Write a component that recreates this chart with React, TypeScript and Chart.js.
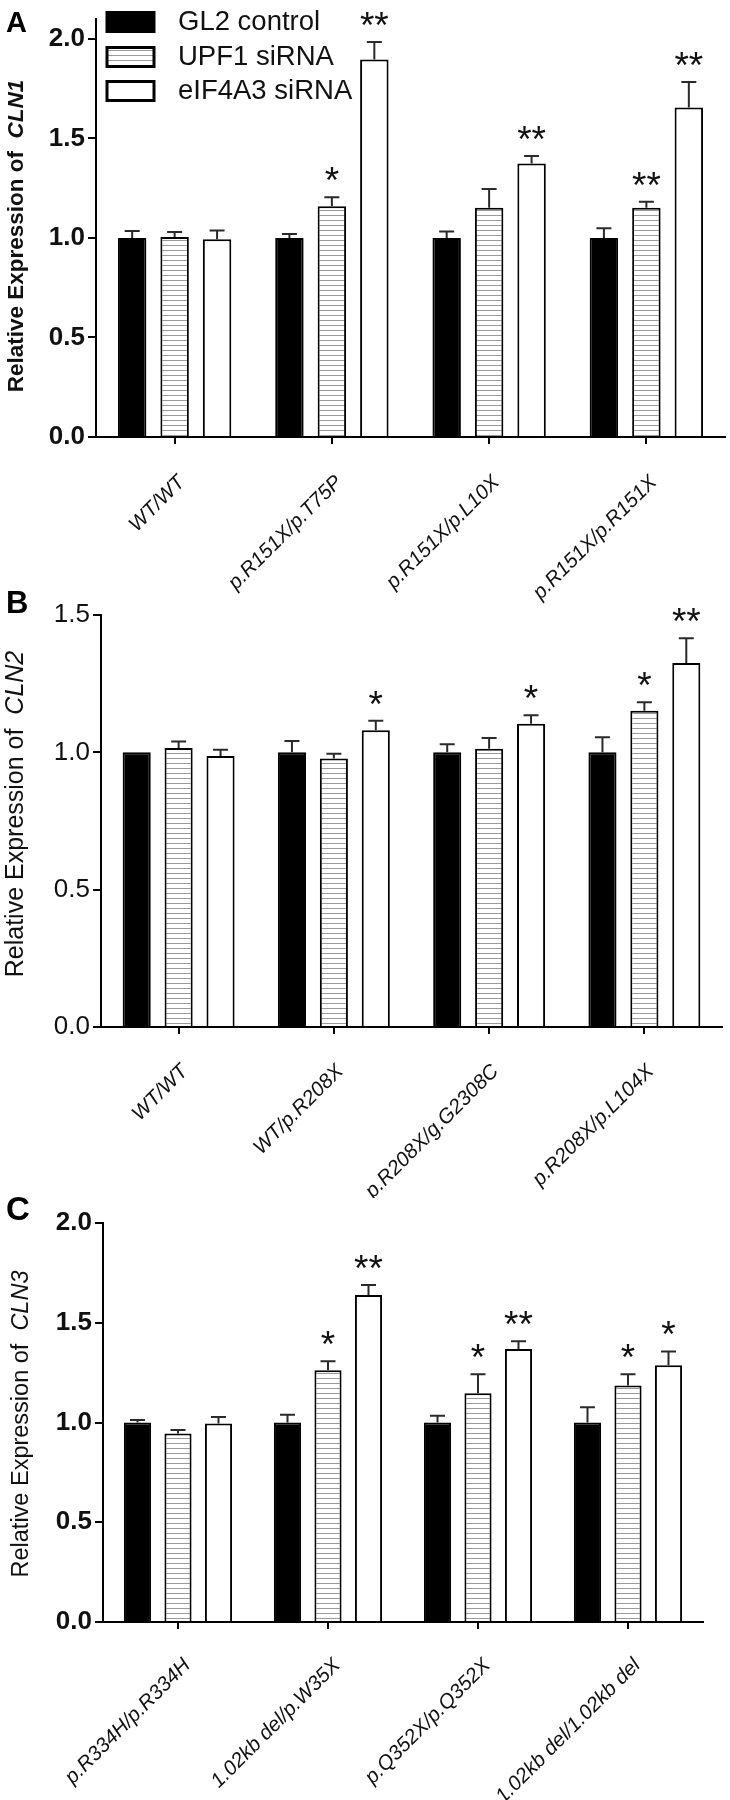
import React, { useEffect, useRef } from 'react';
import { Chart, registerables } from 'chart.js';
Chart.register(...registerables);

const FONT = "'Liberation Sans', Arial, Helvetica, sans-serif";
Chart.defaults.font.family = FONT;

const seriesNames = ['GL2 control', 'UPF1 siRNA', 'eIF4A3 siRNA'];

// Panel A (CLN1)
const catsA = ['WT/WT', 'p.R151X/p.T75P', 'p.R151X/p.L10X', 'p.R151X/p.R151X'];
const ticksA = [0, 0.5, 1.0, 1.5, 2.0];
const gl2A = [1.0, 1.0, 1.0, 1.0];
const upf1A = [1.005, 1.159, 1.152, 1.152];
const eifA = [0.993, 1.896, 1.374, 1.655];
const gl2ErrA = [0.035, 0.02, 0.033, 0.049];
const upf1ErrA = [0.025, 0.045, 0.094, 0.03];
const eifErrA = [0.045, 0.089, 0.038, 0.129];
const gl2SigA = ['', '', '', ''];
const upf1SigA = ['', '*', '', '**'];
const eifSigA = ['', '**', '**', '**'];

// Panel B (CLN2)
const catsB = ['WT/WT', 'WT/p.R208X', 'p.R208X/g.G2308C', 'p.R208X/p.L104X'];
const ticksB = [0, 0.5, 1.0, 1.5];
const gl2B = [1.0, 1.0, 1.0, 1.0];
const upf1B = [1.016, 0.978, 1.013, 1.151];
const eifB = [0.987, 1.08, 1.104, 1.325];
const gl2ErrB = [0, 0.041, 0.029, 0.055];
const upf1ErrB = [0.023, 0.017, 0.039, 0.031];
const eifErrB = [0.022, 0.035, 0.031, 0.09];
const gl2SigB = ['', '', '', ''];
const upf1SigB = ['', '', '', '*'];
const eifSigB = ['', '*', '*', '**'];

// Panel C (CLN3)
const catsC = ['p.R334H/p.R334H', '1.02kb del/p.W35X', 'p.Q352X/p.Q352X', '1.02kb del/1.02kb del'];
const ticksC = [0, 0.5, 1.0, 1.5, 2.0];
const gl2C = [1.0, 1.0, 1.0, 1.0];
const upf1C = [0.945, 1.262, 1.147, 1.186];
const eifC = [0.995, 1.639, 1.368, 1.287];
const gl2ErrC = [0.013, 0.039, 0.034, 0.077];
const upf1ErrC = [0.018, 0.045, 0.095, 0.056];
const eifErrC = [0.033, 0.05, 0.039, 0.069];
const gl2SigC = ['', '', '', ''];
const upf1SigC = ['', '*', '*', '*'];
const eifSigC = ['', '**', '**', '*'];

type PanelCfg = {
  letter: string; letterSize: number; letterBase: number;
  gene: string; titleBold: boolean; titleSize: number; titleBaseX: number; titleCenterY: number;
  tickBold: boolean; tickValues: number[];
  categories: string[]; values: number[][]; errors: number[][]; sigs: string[][];
  max: number;
  top: number; height: number;
  left: number; right: number; chartTop: number; chartBottom: number;
  labelDx: number; labelDy: number; labelSize: number; legend: boolean;
};

const panels: PanelCfg[] = [
  {
    letter: 'A', letterSize: 29, letterBase: 32,
    gene: 'CLN1', titleBold: true, titleSize: 22.5, titleBaseX: 23, titleCenterY: 236,
    tickBold: true, tickValues: ticksA,
    categories: catsA, values: [gl2A, upf1A, eifA], errors: [gl2ErrA, upf1ErrA, eifErrA],
    sigs: [gl2SigA, upf1SigA, eifSigA], max: 2.1,
    top: 0, height: 610, left: 96, right: 725, chartTop: 19, chartBottom: 437,
    labelDx: 0, labelDy: 35, labelSize: 20.5, legend: true,
  },
  {
    letter: 'B', letterSize: 31, letterBase: 613,
    gene: 'CLN2', titleBold: false, titleSize: 25, titleBaseX: 23, titleCenterY: 814,
    tickBold: false, tickValues: ticksB,
    categories: catsB, values: [gl2B, upf1B, eifB], errors: [gl2ErrB, upf1ErrB, eifErrB],
    sigs: [gl2SigB, upf1SigB, eifSigB], max: 1.5,
    top: 588, height: 610, left: 101, right: 722, chartTop: 615, chartBottom: 1027,
    labelDx: -1, labelDy: 34, labelSize: 20.5, legend: false,
  },
  {
    letter: 'C', letterSize: 33, letterBase: 1220,
    gene: 'CLN3', titleBold: false, titleSize: 23.5, titleBaseX: 28, titleCenterY: 1424,
    tickBold: true, tickValues: ticksC,
    categories: catsC, values: [gl2C, upf1C, eifC], errors: [gl2ErrC, upf1ErrC, eifErrC],
    sigs: [gl2SigC, upf1SigC, eifSigC], max: 2.0,
    top: 1188, height: 612, left: 103, right: 703, chartTop: 1223, chartBottom: 1622,
    labelDx: 2, labelDy: 33, labelSize: 20.5, legend: false,
  },
];

function makeStripe(ctx: CanvasRenderingContext2D) {
  const c = document.createElement('canvas');
  c.width = 4; c.height = 5;
  const g = c.getContext('2d')!;
  g.fillStyle = '#ffffff';
  g.fillRect(0, 0, 4, 5);
  g.fillStyle = '#9a9a9a';
  g.fillRect(0, 0, 4, 1);
  return ctx.createPattern(c, 'repeat') as CanvasPattern;
}

function Panel({ cfg }: { cfg: PanelCfg }) {
  const ref = useRef<HTMLCanvasElement>(null);
  useEffect(() => {
    const canvas = ref.current!;
    const ctx = canvas.getContext('2d')!;
    const stripe = makeStripe(ctx);
    const fills: (string | CanvasPattern)[] = ['#000000', stripe, '#ffffff'];
    const off = cfg.top;

    const extras = {
      id: 'extras',
      afterDatasetsDraw(chart: any) {
        const c = chart.ctx as CanvasRenderingContext2D;
        const y = chart.scales.y;
        c.save();
        for (let d = 0; d < cfg.values.length; d++) {
          const meta = chart.getDatasetMeta(d);
          meta.data.forEach((bar: any, i: number) => {
            const v = cfg.values[d][i];
            const e = cfg.errors[d][i];
            let topY = y.getPixelForValue(v);
            if (e > 0) {
              const ey = y.getPixelForValue(v + e);
              c.strokeStyle = '#2a2a2a';
              c.lineWidth = 2;
              c.beginPath();
              c.moveTo(bar.x, topY);
              c.lineTo(bar.x, ey);
              c.moveTo(bar.x - 7.5, ey);
              c.lineTo(bar.x + 7.5, ey);
              c.stroke();
              topY = ey;
            }
            const s = cfg.sigs[d][i];
            if (s) {
              c.fillStyle = '#111';
              c.font = `37px ${FONT}`;
              c.textAlign = 'center';
              c.textBaseline = 'alphabetic';
              c.fillText(s, bar.x, topY - 4);
            }
          });
        }
        c.restore();
      },
      afterDraw(chart: any) {
        const c = chart.ctx as CanvasRenderingContext2D;
        const xs = chart.scales.x;
        const area = chart.chartArea;
        c.save();
        // x labels
        c.fillStyle = '#111';
        c.font = `italic ${cfg.labelSize}px ${FONT}`;
        c.textAlign = 'right';
        c.textBaseline = 'top';
        cfg.categories.forEach((lab, i) => {
          const px = xs.getPixelForValue(i);
          c.save();
          c.translate(px + cfg.labelDx, area.bottom + cfg.labelDy);
          c.rotate(-Math.PI / 4);
          c.fillText(lab, 0, 0);
          c.restore();
        });
        // y title
        const p1 = 'Relative Expression of  ';
        const f1 = `${cfg.titleBold ? 'bold ' : ''}${cfg.titleSize}px ${FONT}`;
        const f2 = `italic ${cfg.titleBold ? 'bold ' : ''}${cfg.titleSize}px ${FONT}`;
        c.font = f1; const w1 = c.measureText(p1).width;
        c.font = f2; const w2 = c.measureText(cfg.gene).width;
        c.save();
        c.translate(cfg.titleBaseX, cfg.titleCenterY - off);
        c.rotate(-Math.PI / 2);
        c.textAlign = 'left';
        c.textBaseline = 'alphabetic';
        c.fillStyle = '#111';
        c.font = f1; c.fillText(p1, -(w1 + w2) / 2, 0);
        c.font = f2; c.fillText(cfg.gene, -(w1 + w2) / 2 + w1, 0);
        c.restore();
        // panel letter
        c.font = `bold ${cfg.letterSize}px ${FONT}`;
        c.textAlign = 'left';
        c.textBaseline = 'alphabetic';
        c.fillStyle = '#000';
        c.fillText(cfg.letter, 6, cfg.letterBase - off);
        // legend
        if (cfg.legend) {
          const tops = [12.5, 47.5, 81.5];
          seriesNames.forEach((nm, k) => {
            const t = tops[k] - off;
            c.fillStyle = fills[k] as any;
            c.fillRect(107, t, 47, 19);
            c.strokeStyle = '#000';
            c.lineWidth = 3;
            c.strokeRect(107, t, 47, 19);
            c.fillStyle = '#111';
            c.font = `27.5px ${FONT}`;
            c.textBaseline = 'middle';
            c.textAlign = 'left';
            c.fillText(nm, 178, t + 10);
          });
        }
        c.restore();
      },
    };

    const chart = new Chart(ctx, {
      type: 'bar',
      data: {
        labels: cfg.categories,
        datasets: cfg.values.map((vals, k) => ({
          label: seriesNames[k],
          data: vals,
          backgroundColor: fills[k] as any,
          borderColor: '#000',
          borderWidth: 2,
          categoryPercentage: 0.81,
          barPercentage: 0.67,
        })),
      },
      options: {
        responsive: false,
        animation: false,
        devicePixelRatio: 1,
        layout: { padding: { top: cfg.chartTop - off, right: 730 - cfg.right, left: 0, bottom: 0 } },
        plugins: { legend: { display: false }, tooltip: { enabled: false }, title: { display: false } },
        scales: {
          x: {
            type: 'category',
            grid: { drawOnChartArea: false, drawTicks: true, tickLength: 7, offset: false, color: '#000', lineWidth: 2 },
            border: { display: true, color: '#000', width: 2 },
            ticks: { display: false },
            afterFit: (s: any) => { s.height = cfg.height - (cfg.chartBottom - off); },
          },
          y: {
            type: 'linear',
            min: 0,
            max: cfg.max,
            grid: { drawOnChartArea: false, drawTicks: true, tickLength: 8, color: '#000', lineWidth: 2 },
            border: { display: true, color: '#000', width: 2 },
            ticks: {
              padding: 3,
              color: '#111',
              font: { size: 26, weight: cfg.tickBold ? 'bold' : 'normal', family: FONT },
              callback: (v: any) => Number(v).toFixed(1),
            },
            afterBuildTicks: (s: any) => {
              s.ticks = cfg.tickValues.map((v) => ({ value: v }));
            },
            afterFit: (s: any) => { s.width = cfg.left; },
          },
        },
      },
      plugins: [extras],
    } as any);
    return () => chart.destroy();
  }, []);
  return (
    <canvas
      ref={ref}
      width={730}
      height={cfg.height}
      style={{ position: 'absolute', left: 0, top: cfg.top, width: 730, height: cfg.height }}
    />
  );
}

export default function App() {
  return (
    <div style={{ position: 'absolute', left: 0, top: 0, width: 730, height: 1800, background: '#fff' }}>
      {panels.map((p) => (
        <Panel key={p.letter} cfg={p} />
      ))}
    </div>
  );
}
